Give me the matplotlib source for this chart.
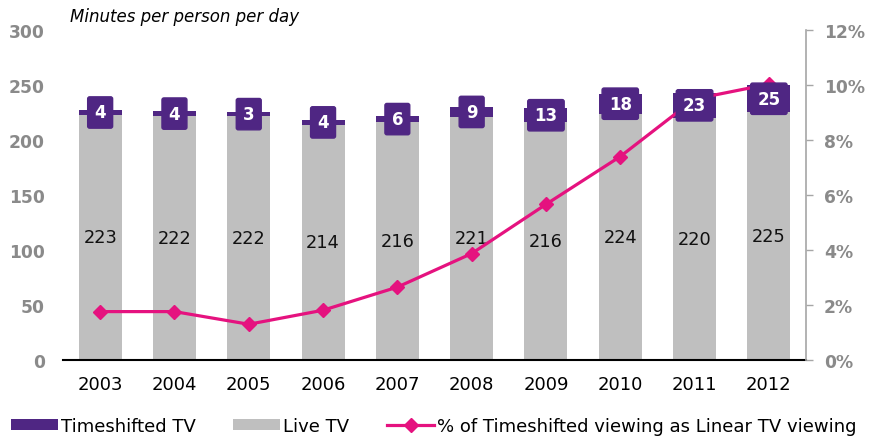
import matplotlib
matplotlib.use("Agg")
import matplotlib.pyplot as plt
from matplotlib.patches import Patch
from matplotlib.lines import Line2D
import numpy as np

years = ["2003", "2004", "2005", "2006", "2007", "2008", "2009", "2010", "2011", "2012"]
live_tv = [223, 222, 222, 214, 216, 221, 216, 224, 220, 225]
timeshifted_tv = [4, 4, 3, 4, 6, 9, 13, 18, 23, 25]
pct_timeshifted = [1.76, 1.76, 1.30, 1.81, 2.65, 3.87, 5.66, 7.40, 9.49, 10.03]
left_ticks = [0, 50, 100, 150, 200, 250, 300]
right_ticks = [0, 2, 4, 6, 8, 10, 12]

PURPLE = "#4f2683"
GRAY = "#bfbfbf"
PINK = "#e5127f"
TICKGRAY = "#8a8a8a"

plt.rcParams["font.family"] = ["DejaVu Sans"]

fig = plt.figure(figsize=(8.7, 4.39), dpi=100)
ax = fig.add_axes([63 / 870, 1 - 361 / 439, (806 - 63) / 870, (361 - 31) / 439])
x = np.arange(len(years))
w = 0.58

live_bars = ax.bar(x, live_tv, width=w, color=GRAY, zorder=2)
ts_bars = ax.bar(x, timeshifted_tv, width=w, bottom=live_tv, color=PURPLE, zorder=2)

ax.set_xlim(-0.5, 9.5)
ax.set_ylim(0, 300)
ax.set_yticks(left_ticks)
ax.set_xticks(x)
ax.set_xticklabels(years)
for s in ["top", "left", "right"]:
    ax.spines[s].set_visible(False)
ax.spines["bottom"].set_color("black")
ax.spines["bottom"].set_linewidth(1.5)
ax.tick_params(axis="y", length=0, pad=13, labelsize=12.3, labelcolor=TICKGRAY)
ax.tick_params(axis="x", length=0, pad=11, labelsize=13, labelcolor="black")
for lab in ax.get_yticklabels():
    lab.set_fontweight("bold")

# live labels centered in bars
for xi, v in zip(x, live_tv):
    ax.text(xi, v / 2, str(v), ha="center", va="center", fontsize=12.8, color="#111111", zorder=3)

ax2 = ax.twinx()
ax2.set_ylim(0, 12)
ax2.set_yticks(right_ticks)
ax2.set_yticklabels([f"{t}%" for t in right_ticks])
for s in ["top", "left", "bottom"]:
    ax2.spines[s].set_visible(False)
ax2.spines["right"].set_color("#a6a6a6")
ax2.spines["right"].set_linewidth(1.2)
ax2.tick_params(axis="y", length=5, width=1, color="#a6a6a6", pad=8, labelsize=12.3, labelcolor=TICKGRAY)
for lab in ax2.get_yticklabels():
    lab.set_fontweight("bold")

ax2.plot(x, pct_timeshifted, color=PINK, lw=2.3, marker="D", markersize=7.5, zorder=3)

# timeshifted labels in boxes above the line
for xi, lv, tv in zip(x, live_tv, timeshifted_tv):
    ax2.text(xi, lv + tv / 2, str(tv), transform=ax.transData, ha="center", va="center",
             fontsize=12, fontweight="bold", color="white", zorder=5,
             bbox=dict(boxstyle="round,pad=0.4,rounding_size=0.12", fc=PURPLE, ec=PURPLE))

fig.text(70 / 870, 1 - 17 / 439, "Minutes per person per day", fontsize=12, style="italic",
         ha="left", va="center", color="black")

handles = [
    Patch(facecolor=PURPLE, edgecolor="none", label="Timeshifted TV"),
    Patch(facecolor=GRAY, edgecolor="none", label="Live TV"),
    Line2D([0], [0], color=PINK, lw=2.3, marker="D", markersize=7, label="% of Timeshifted viewing as Linear TV viewing"),
]
fig.legend(handles=handles, loc="center left", bbox_to_anchor=(11 / 870, 1 - 427 / 439), ncol=3,
           frameon=False, fontsize=13, handlelength=2.6, handleheight=0.55, handletextpad=0.15,
           columnspacing=2.1, borderpad=0, borderaxespad=0)

fig.savefig("out.png", dpi=100)
